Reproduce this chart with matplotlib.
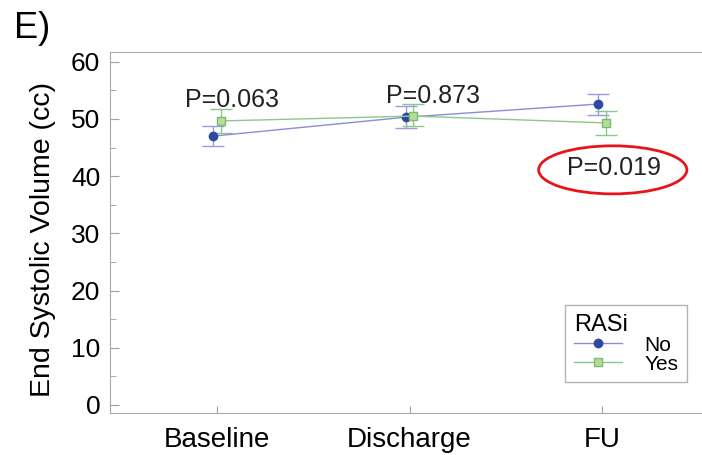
import matplotlib.pyplot as plt
import numpy as np
from matplotlib.patches import Ellipse
from matplotlib.lines import Line2D
from matplotlib.ticker import MultipleLocator

plt.rcParams['font.family'] = ['Liberation Sans', 'DejaVu Sans']

# data
visits = ['Baseline', 'Discharge', 'FU']
no_mean = [47.0, 50.3, 52.6]
no_low = [45.3, 48.5, 50.7]
no_high = [48.8, 52.2, 54.3]
yes_mean = [49.65, 50.5, 49.3]
yes_low = [47.5, 48.7, 47.2]
yes_high = [51.8, 52.6, 51.3]
p_labels = ['P=0.063', 'P=0.873', 'P=0.019']
p_x = [0.08, 1.12, 2.06]
p_y = [53.3, 54.0, 41.4]

x = np.arange(len(visits))
no_mean = np.array(no_mean)
yes_mean = np.array(yes_mean)
no_err = [no_mean - np.array(no_low), np.array(no_high) - no_mean]
yes_err = [yes_mean - np.array(yes_low), np.array(yes_high) - yes_mean]

no_line = '#8c8cd8'
no_mark = '#2b4aa0'
yes_line = '#8cc88c'
yes_face = '#b8dc98'
yes_edge = '#7cbc6c'

fig = plt.figure(figsize=(7.02, 4.55), dpi=100)
# axes runs a little past the right edge, like the cropped original
ax = fig.add_axes([110/702, 1 - 413/455, 599/702, 361/455])

ax.errorbar(x - 0.02, no_mean, yerr=no_err, color=no_line, lw=1,
            marker='o', ms=6, mfc=no_mark, mec=no_mark,
            ecolor='#9a9ae0', elinewidth=1, capsize=8, capthick=1)
ax.errorbar(x + 0.02, yes_mean, yerr=yes_err, color=yes_line, lw=1,
            marker='s', ms=6, mfc=yes_face, mec=yes_edge,
            ecolor=yes_line, elinewidth=1, capsize=8, capthick=1)

for lab, px, py in zip(p_labels, p_x, p_y):
    ax.text(px, py, lab, ha='center', va='center', fontsize=18, color='#222222')

ax.add_patch(Ellipse((2.056, 41.1), 0.77, 8.4, fill=False, ec='#e8141c', lw=2))

ax.set_xlim(-0.556, 2.556)
ax.set_ylim(-1.4, 61.7)
ax.set_xticks(x)
ax.set_xticklabels(visits)
ax.yaxis.set_major_locator(MultipleLocator(10))
ax.yaxis.set_minor_locator(MultipleLocator(5))
ax.tick_params(axis='y', which='major', direction='in', length=6.5, color='#a0a0a0',
               labelsize=19, pad=7)
ax.tick_params(axis='y', which='minor', direction='in', length=4, color='#a0a0a0')
ax.tick_params(axis='x', direction='in', length=5, color='#a0a0a0', labelsize=20, pad=10)
for s in ax.spines.values():
    s.set_color('#a8a8a8')
ax.spines['right'].set_visible(False)

ax.set_ylabel('End Systolic Volume (cc)', fontsize=20.5)
ax.yaxis.set_label_coords(-0.09, 0.48)

handles = [Line2D([], [], color=no_line, lw=1, marker='o', ms=6, mfc=no_mark, mec=no_mark),
           Line2D([], [], color=yes_line, lw=1, marker='s', ms=6, mfc=yes_face, mec=yes_edge)]
leg = ax.legend(handles, ['No', 'Yes'], title='RASi', loc='lower right',
                bbox_to_anchor=(0.963, 0.086), borderaxespad=0, fontsize=15,
                title_fontsize=17, fancybox=False, edgecolor='#a0a0a0',
                labelspacing=0.0, handlelength=2.3, handletextpad=1.1,
                alignment='left', borderpad=0.4)
leg.get_frame().set_linewidth(1)

fig.text(14/702, 1 - 29/455, 'E)', fontsize=26, va='center', ha='left')

fig.savefig('out.png', dpi=100)
